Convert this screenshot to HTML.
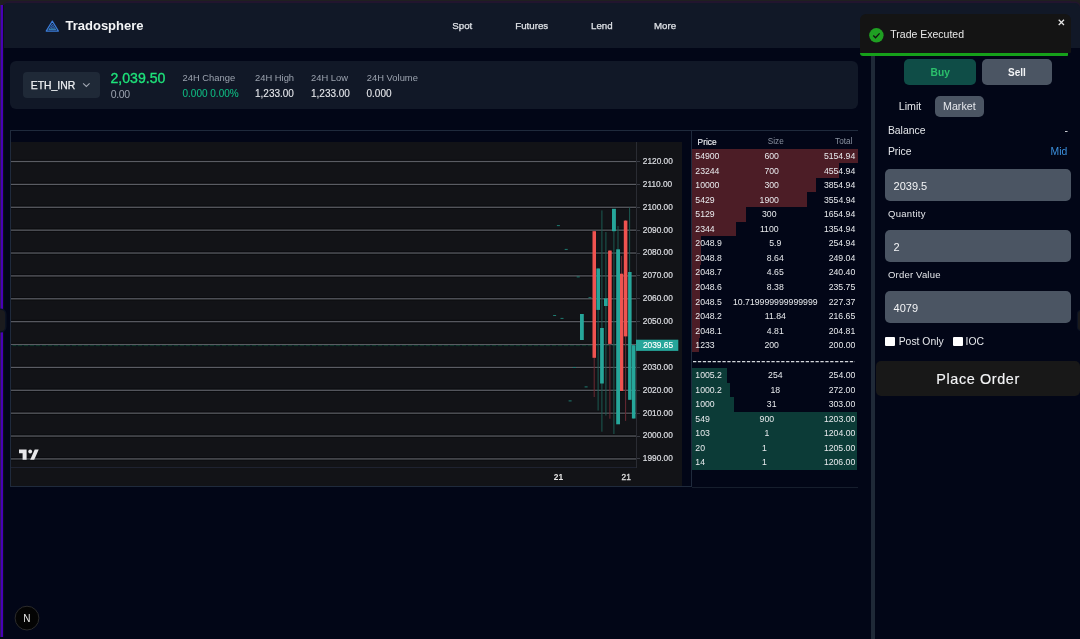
<!DOCTYPE html>
<html><head><meta charset="utf-8"><title>Tradosphere</title>
<style>
*{box-sizing:border-box;margin:0;padding:0}
html,body{width:1080px;height:639px;overflow:hidden;background:#020617;font-family:"Liberation Sans",Arial,sans-serif;color:#e5e7eb}
.a{position:absolute}
.t{position:absolute;white-space:pre;line-height:1}
#frame{left:0;top:0;width:1080px;height:3px;background:#22152e;border-top:1px solid #1f1f20}
#pl{left:0;top:4.5px;width:3px;height:632px;background:#4800b6;border-left:1px solid #2f1a58}
#pl2{left:3px;top:4.5px;width:1px;height:632px;background:#0a1018}
#hdr{left:3px;top:3px;width:1077px;height:44.9px;background:#111827;border-radius:5px 5px 0 0;box-shadow:0 -1.5px 0 #22152e}
.nav{font-size:9.7px;color:#dfe2e7;top:20.8px;-webkit-text-stroke:0.25px #dfe2e7}
#tick{left:10px;top:61px;width:848px;height:47.5px;background:#111827;border-radius:6px}
#pair{left:23.1px;top:72px;width:76.8px;height:25.9px;background:#1f2937;border-radius:4px}
.lbl{font-size:9.4px;color:#9ca3af}
.val{font-size:10px;color:#e5e7eb;-webkit-text-stroke:0.1px currentColor}
#chartbox{left:10px;top:130px;width:682px;height:357px;border:1px solid #1f2a3c}
#chartbg{left:11px;top:142px;width:671px;height:344px;background:#121317}
.ob{font-size:8.7px;color:#e8eaed}
#div{left:871.2px;top:47px;width:3.4px;height:592px;background:#1f2937}
#toast{left:859.6px;top:14px;width:211.2px;height:38.7px;background:#141414;border-radius:6px 6px 1px 0}
.inp{left:885px;width:186px;height:32px;background:#4b5563;border-radius:5px}
.flbl{font-size:10.4px;color:#e5e7eb}
</style></head><body>
<div class="a" id="frame"></div>
<div class="a" style="left:0;top:0;width:9px;height:9px;background:#1e1e1f"></div>
<div class="a" style="left:1071px;top:0;width:9px;height:9px;background:#1e1e1f"></div>
<div class="a" id="hdr"></div>
<div class="a" id="pl"></div><div class="a" id="pl2"></div>
<div class="a" style="left:-3px;top:310px;width:8.2px;height:21.2px;background:#1b1b1e;border-radius:4px;box-shadow:0 0 0 1.5px #0b1222"></div>
<div class="a" style="left:1077.6px;top:310.7px;width:8px;height:19px;background:#1a1a1c;border-radius:3px;box-shadow:0 0 0 1.2px #0b1222"></div>
<!-- logo -->
<svg class="a" style="left:42px;top:17px" width="20" height="18" viewBox="42 17 20 18">
  <path d="M48.2 30 H56.4 L55.3 28.4 H49.3 Z" fill="#2d7868"/>
  <path d="M52.3 21.1 L58.4 31.1 L46.2 31.1 Z" fill="none" stroke="#3a7bd8" stroke-width="1.2" stroke-linejoin="round"/>
  <path d="M52.3 24.2 L55.6 29.7 L49 29.7 Z" fill="none" stroke="#3a7bd8" stroke-width="0.8"/>
  <path d="M52.3 26.3 L53.5 28.3 L51.1 28.3 Z" fill="none" stroke="#3a7bd8" stroke-width="0.7"/>
</svg>
<div class="t" style="left:65.5px;top:19.3px;font-size:13px;font-weight:700;color:#f3f4f6">Tradosphere</div>
<div class="t nav" style="left:452.3px">Spot</div>
<div class="t nav" style="left:515.3px">Futures</div>
<div class="t nav" style="left:591px">Lend</div>
<div class="t nav" style="left:654px">More</div>

<!-- ticker -->
<div class="a" id="tick"></div>
<div class="a" id="pair"></div>
<div class="t" style="left:30.8px;top:80.8px;font-size:10.4px;color:#eef0f3;-webkit-text-stroke:0.25px #eef0f3">ETH_INR</div>
<svg class="a" style="left:82px;top:82px" width="9" height="6" viewBox="0 0 9 6"><path d="M1.1 1.4 L4.35 4.5 L7.6 1.4" fill="none" stroke="#a3a9b4" stroke-width="1.05"/></svg>
<div class="t" style="left:110.5px;top:71px;font-size:14.1px;color:#1ee27a;-webkit-text-stroke:0.35px #1ee27a">2,039.50</div>
<div class="t" style="left:110.8px;top:88.6px;font-size:10.5px;letter-spacing:-0.35px;color:#9ca3af">0.00</div>
<div class="t lbl" style="left:182.5px;top:72.5px">24H Change</div>
<div class="t val" style="left:182.5px;top:89px;color:#10b981">0.000 0.00%</div>
<div class="t lbl" style="left:255px;top:72.5px">24H High</div>
<div class="t val" style="left:255px;top:89px">1,233.00</div>
<div class="t lbl" style="left:311px;top:72.5px">24H Low</div>
<div class="t val" style="left:311px;top:89px">1,233.00</div>
<div class="t lbl" style="left:366.8px;top:72.5px">24H Volume</div>
<div class="t val" style="left:366.5px;top:89px">0.000</div>

<!-- chart -->
<div class="a" id="chartbox"></div>
<div class="a" id="chartbg"></div>
<svg class="a" style="left:0;top:0" width="1080" height="639" id="chartsvg">
<rect x="11" y="457.20" width="625" height="3.4" fill="#0b0c0f"/>
<rect x="11" y="458.30" width="625" height="1.25" fill="#5a5c63"/>
<rect x="11" y="434.32" width="625" height="3.4" fill="#0b0c0f"/>
<rect x="11" y="435.42" width="625" height="1.25" fill="#5a5c63"/>
<rect x="11" y="411.45" width="625" height="3.4" fill="#0b0c0f"/>
<rect x="11" y="412.55" width="625" height="1.25" fill="#5a5c63"/>
<rect x="11" y="388.57" width="625" height="3.4" fill="#0b0c0f"/>
<rect x="11" y="389.67" width="625" height="1.25" fill="#5a5c63"/>
<rect x="11" y="365.69" width="625" height="3.4" fill="#0b0c0f"/>
<rect x="11" y="366.79" width="625" height="1.25" fill="#5a5c63"/>
<rect x="11" y="342.82" width="625" height="3.4" fill="#0b0c0f"/>
<rect x="11" y="343.92" width="625" height="1.25" fill="#5a5c63"/>
<rect x="11" y="319.94" width="625" height="3.4" fill="#0b0c0f"/>
<rect x="11" y="321.04" width="625" height="1.25" fill="#5a5c63"/>
<rect x="11" y="297.06" width="625" height="3.4" fill="#0b0c0f"/>
<rect x="11" y="298.16" width="625" height="1.25" fill="#5a5c63"/>
<rect x="11" y="274.19" width="625" height="3.4" fill="#0b0c0f"/>
<rect x="11" y="275.28" width="625" height="1.25" fill="#5a5c63"/>
<rect x="11" y="251.31" width="625" height="3.4" fill="#0b0c0f"/>
<rect x="11" y="252.41" width="625" height="1.25" fill="#5a5c63"/>
<rect x="11" y="228.43" width="625" height="3.4" fill="#0b0c0f"/>
<rect x="11" y="229.53" width="625" height="1.25" fill="#5a5c63"/>
<rect x="11" y="205.55" width="625" height="3.4" fill="#0b0c0f"/>
<rect x="11" y="206.65" width="625" height="1.25" fill="#5a5c63"/>
<rect x="11" y="182.68" width="625" height="3.4" fill="#0b0c0f"/>
<rect x="11" y="183.78" width="625" height="1.25" fill="#5a5c63"/>
<rect x="11" y="159.80" width="625" height="3.4" fill="#0b0c0f"/>
<rect x="11" y="160.90" width="625" height="1.25" fill="#5a5c63"/>
<rect x="11" y="345.1" width="625" height="1.1" fill="#0e3a2c"/>
<rect x="11.00" y="345.1" width="1.5" height="1.1" fill="#0a0f22"/>
<rect x="16.25" y="345.1" width="1.5" height="1.1" fill="#0a0f22"/>
<rect x="22.25" y="345.1" width="1.5" height="1.1" fill="#0a0f22"/>
<rect x="28.25" y="345.1" width="1.5" height="1.1" fill="#0a0f22"/>
<rect x="34.25" y="345.1" width="1.5" height="1.1" fill="#0a0f22"/>
<rect x="40.25" y="345.1" width="1.5" height="1.1" fill="#0a0f22"/>
<rect x="46.25" y="345.1" width="1.5" height="1.1" fill="#0a0f22"/>
<rect x="52.25" y="345.1" width="1.5" height="1.1" fill="#0a0f22"/>
<rect x="58.25" y="345.1" width="1.5" height="1.1" fill="#0a0f22"/>
<rect x="64.25" y="345.1" width="1.5" height="1.1" fill="#0a0f22"/>
<rect x="70.25" y="345.1" width="1.5" height="1.1" fill="#0a0f22"/>
<rect x="76.25" y="345.1" width="1.5" height="1.1" fill="#0a0f22"/>
<rect x="82.25" y="345.1" width="1.5" height="1.1" fill="#0a0f22"/>
<rect x="88.25" y="345.1" width="1.5" height="1.1" fill="#0a0f22"/>
<rect x="94.25" y="345.1" width="1.5" height="1.1" fill="#0a0f22"/>
<rect x="100.25" y="345.1" width="1.5" height="1.1" fill="#0a0f22"/>
<rect x="106.25" y="345.1" width="1.5" height="1.1" fill="#0a0f22"/>
<rect x="112.25" y="345.1" width="1.5" height="1.1" fill="#0a0f22"/>
<rect x="118.25" y="345.1" width="1.5" height="1.1" fill="#0a0f22"/>
<rect x="124.25" y="345.1" width="1.5" height="1.1" fill="#0a0f22"/>
<rect x="130.25" y="345.1" width="1.5" height="1.1" fill="#0a0f22"/>
<rect x="136.25" y="345.1" width="1.5" height="1.1" fill="#0a0f22"/>
<rect x="142.25" y="345.1" width="1.5" height="1.1" fill="#0a0f22"/>
<rect x="148.25" y="345.1" width="1.5" height="1.1" fill="#0a0f22"/>
<rect x="154.25" y="345.1" width="1.5" height="1.1" fill="#0a0f22"/>
<rect x="160.25" y="345.1" width="1.5" height="1.1" fill="#0a0f22"/>
<rect x="166.25" y="345.1" width="1.5" height="1.1" fill="#0a0f22"/>
<rect x="172.25" y="345.1" width="1.5" height="1.1" fill="#0a0f22"/>
<rect x="178.25" y="345.1" width="1.5" height="1.1" fill="#0a0f22"/>
<rect x="184.25" y="345.1" width="1.5" height="1.1" fill="#0a0f22"/>
<rect x="190.25" y="345.1" width="1.5" height="1.1" fill="#0a0f22"/>
<rect x="196.25" y="345.1" width="1.5" height="1.1" fill="#0a0f22"/>
<rect x="202.25" y="345.1" width="1.5" height="1.1" fill="#0a0f22"/>
<rect x="208.25" y="345.1" width="1.5" height="1.1" fill="#0a0f22"/>
<rect x="214.25" y="345.1" width="1.5" height="1.1" fill="#0a0f22"/>
<rect x="220.25" y="345.1" width="1.5" height="1.1" fill="#0a0f22"/>
<rect x="226.25" y="345.1" width="1.5" height="1.1" fill="#0a0f22"/>
<rect x="232.25" y="345.1" width="1.5" height="1.1" fill="#0a0f22"/>
<rect x="238.25" y="345.1" width="1.5" height="1.1" fill="#0a0f22"/>
<rect x="244.25" y="345.1" width="1.5" height="1.1" fill="#0a0f22"/>
<rect x="250.25" y="345.1" width="1.5" height="1.1" fill="#0a0f22"/>
<rect x="256.25" y="345.1" width="1.5" height="1.1" fill="#0a0f22"/>
<rect x="262.25" y="345.1" width="1.5" height="1.1" fill="#0a0f22"/>
<rect x="268.25" y="345.1" width="1.5" height="1.1" fill="#0a0f22"/>
<rect x="274.25" y="345.1" width="1.5" height="1.1" fill="#0a0f22"/>
<rect x="280.25" y="345.1" width="1.5" height="1.1" fill="#0a0f22"/>
<rect x="286.25" y="345.1" width="1.5" height="1.1" fill="#0a0f22"/>
<rect x="292.25" y="345.1" width="1.5" height="1.1" fill="#0a0f22"/>
<rect x="298.25" y="345.1" width="1.5" height="1.1" fill="#0a0f22"/>
<rect x="304.25" y="345.1" width="1.5" height="1.1" fill="#0a0f22"/>
<rect x="310.25" y="345.1" width="1.5" height="1.1" fill="#0a0f22"/>
<rect x="316.25" y="345.1" width="1.5" height="1.1" fill="#0a0f22"/>
<rect x="322.25" y="345.1" width="1.5" height="1.1" fill="#0a0f22"/>
<rect x="328.25" y="345.1" width="1.5" height="1.1" fill="#0a0f22"/>
<rect x="334.25" y="345.1" width="1.5" height="1.1" fill="#0a0f22"/>
<rect x="340.25" y="345.1" width="1.5" height="1.1" fill="#0a0f22"/>
<rect x="346.25" y="345.1" width="1.5" height="1.1" fill="#0a0f22"/>
<rect x="352.25" y="345.1" width="1.5" height="1.1" fill="#0a0f22"/>
<rect x="358.25" y="345.1" width="1.5" height="1.1" fill="#0a0f22"/>
<rect x="364.25" y="345.1" width="1.5" height="1.1" fill="#0a0f22"/>
<rect x="370.25" y="345.1" width="1.5" height="1.1" fill="#0a0f22"/>
<rect x="376.25" y="345.1" width="1.5" height="1.1" fill="#0a0f22"/>
<rect x="382.25" y="345.1" width="1.5" height="1.1" fill="#0a0f22"/>
<rect x="388.25" y="345.1" width="1.5" height="1.1" fill="#0a0f22"/>
<rect x="394.25" y="345.1" width="1.5" height="1.1" fill="#0a0f22"/>
<rect x="400.25" y="345.1" width="1.5" height="1.1" fill="#0a0f22"/>
<rect x="406.25" y="345.1" width="1.5" height="1.1" fill="#0a0f22"/>
<rect x="412.25" y="345.1" width="1.5" height="1.1" fill="#0a0f22"/>
<rect x="418.25" y="345.1" width="1.5" height="1.1" fill="#0a0f22"/>
<rect x="424.25" y="345.1" width="1.5" height="1.1" fill="#0a0f22"/>
<rect x="430.25" y="345.1" width="1.5" height="1.1" fill="#0a0f22"/>
<rect x="436.25" y="345.1" width="1.5" height="1.1" fill="#0a0f22"/>
<rect x="442.25" y="345.1" width="1.5" height="1.1" fill="#0a0f22"/>
<rect x="448.25" y="345.1" width="1.5" height="1.1" fill="#0a0f22"/>
<rect x="454.25" y="345.1" width="1.5" height="1.1" fill="#0a0f22"/>
<rect x="460.25" y="345.1" width="1.5" height="1.1" fill="#0a0f22"/>
<rect x="466.25" y="345.1" width="1.5" height="1.1" fill="#0a0f22"/>
<rect x="472.25" y="345.1" width="1.5" height="1.1" fill="#0a0f22"/>
<rect x="478.25" y="345.1" width="1.5" height="1.1" fill="#0a0f22"/>
<rect x="484.25" y="345.1" width="1.5" height="1.1" fill="#0a0f22"/>
<rect x="490.25" y="345.1" width="1.5" height="1.1" fill="#0a0f22"/>
<rect x="496.25" y="345.1" width="1.5" height="1.1" fill="#0a0f22"/>
<rect x="502.25" y="345.1" width="1.5" height="1.1" fill="#0a0f22"/>
<rect x="508.25" y="345.1" width="1.5" height="1.1" fill="#0a0f22"/>
<rect x="514.25" y="345.1" width="1.5" height="1.1" fill="#0a0f22"/>
<rect x="520.25" y="345.1" width="1.5" height="1.1" fill="#0a0f22"/>
<rect x="526.25" y="345.1" width="1.5" height="1.1" fill="#0a0f22"/>
<rect x="532.25" y="345.1" width="1.5" height="1.1" fill="#0a0f22"/>
<rect x="538.25" y="345.1" width="1.5" height="1.1" fill="#0a0f22"/>
<rect x="544.25" y="345.1" width="1.5" height="1.1" fill="#0a0f22"/>
<rect x="550.25" y="345.1" width="1.5" height="1.1" fill="#0a0f22"/>
<rect x="556.25" y="345.1" width="1.5" height="1.1" fill="#0a0f22"/>
<rect x="562.25" y="345.1" width="1.5" height="1.1" fill="#0a0f22"/>
<rect x="568.25" y="345.1" width="1.5" height="1.1" fill="#0a0f22"/>
<rect x="574.25" y="345.1" width="1.5" height="1.1" fill="#0a0f22"/>
<rect x="580.25" y="345.1" width="1.5" height="1.1" fill="#0a0f22"/>
<rect x="586.25" y="345.1" width="1.5" height="1.1" fill="#0a0f22"/>
<rect x="592.25" y="345.1" width="1.5" height="1.1" fill="#0a0f22"/>
<rect x="598.25" y="345.1" width="1.5" height="1.1" fill="#0a0f22"/>
<rect x="604.25" y="345.1" width="1.5" height="1.1" fill="#0a0f22"/>
<rect x="610.25" y="345.1" width="1.5" height="1.1" fill="#0a0f22"/>
<rect x="616.25" y="345.1" width="1.5" height="1.1" fill="#0a0f22"/>
<rect x="622.25" y="345.1" width="1.5" height="1.1" fill="#0a0f22"/>
<rect x="628.25" y="345.1" width="1.5" height="1.1" fill="#0a0f22"/>
<rect x="634.25" y="345.1" width="1.5" height="1.1" fill="#0a0f22"/>
<rect x="636" y="142" width="1" height="326" fill="#2a2c33"/>
<rect x="11" y="467" width="625" height="1" fill="#1e2230"/>
<text x="642.8" y="461.3" font-size="8.3" fill="#dcdee3" stroke="#dcdee3" stroke-width="0.2" font-family="Liberation Sans, sans-serif">1990.00</text>
<rect x="637" y="458" width="3" height="1" fill="#3a3d45"/>
<text x="642.8" y="438.4" font-size="8.3" fill="#dcdee3" stroke="#dcdee3" stroke-width="0.2" font-family="Liberation Sans, sans-serif">2000.00</text>
<rect x="637" y="436" width="3" height="1" fill="#3a3d45"/>
<text x="642.8" y="415.5" font-size="8.3" fill="#dcdee3" stroke="#dcdee3" stroke-width="0.2" font-family="Liberation Sans, sans-serif">2010.00</text>
<rect x="637" y="413" width="3" height="1" fill="#3a3d45"/>
<text x="642.8" y="392.7" font-size="8.3" fill="#dcdee3" stroke="#dcdee3" stroke-width="0.2" font-family="Liberation Sans, sans-serif">2020.00</text>
<rect x="637" y="390" width="3" height="1" fill="#3a3d45"/>
<text x="642.8" y="369.8" font-size="8.3" fill="#dcdee3" stroke="#dcdee3" stroke-width="0.2" font-family="Liberation Sans, sans-serif">2030.00</text>
<rect x="637" y="367" width="3" height="1" fill="#3a3d45"/>
<text x="642.8" y="324.0" font-size="8.3" fill="#dcdee3" stroke="#dcdee3" stroke-width="0.2" font-family="Liberation Sans, sans-serif">2050.00</text>
<rect x="637" y="321" width="3" height="1" fill="#3a3d45"/>
<text x="642.8" y="301.2" font-size="8.3" fill="#dcdee3" stroke="#dcdee3" stroke-width="0.2" font-family="Liberation Sans, sans-serif">2060.00</text>
<rect x="637" y="298" width="3" height="1" fill="#3a3d45"/>
<text x="642.8" y="278.3" font-size="8.3" fill="#dcdee3" stroke="#dcdee3" stroke-width="0.2" font-family="Liberation Sans, sans-serif">2070.00</text>
<rect x="637" y="275" width="3" height="1" fill="#3a3d45"/>
<text x="642.8" y="255.4" font-size="8.3" fill="#dcdee3" stroke="#dcdee3" stroke-width="0.2" font-family="Liberation Sans, sans-serif">2080.00</text>
<rect x="637" y="253" width="3" height="1" fill="#3a3d45"/>
<text x="642.8" y="232.5" font-size="8.3" fill="#dcdee3" stroke="#dcdee3" stroke-width="0.2" font-family="Liberation Sans, sans-serif">2090.00</text>
<rect x="637" y="230" width="3" height="1" fill="#3a3d45"/>
<text x="642.8" y="209.7" font-size="8.3" fill="#dcdee3" stroke="#dcdee3" stroke-width="0.2" font-family="Liberation Sans, sans-serif">2100.00</text>
<rect x="637" y="207" width="3" height="1" fill="#3a3d45"/>
<text x="642.8" y="186.8" font-size="8.3" fill="#dcdee3" stroke="#dcdee3" stroke-width="0.2" font-family="Liberation Sans, sans-serif">2110.00</text>
<rect x="637" y="184" width="3" height="1" fill="#3a3d45"/>
<text x="642.8" y="163.9" font-size="8.3" fill="#dcdee3" stroke="#dcdee3" stroke-width="0.2" font-family="Liberation Sans, sans-serif">2120.00</text>
<rect x="637" y="161" width="3" height="1" fill="#3a3d45"/>
<rect x="636" y="339.7" width="42.3" height="11.2" fill="#26a69a"/>
<text x="642.9" y="348.2" font-size="8.4" fill="#ffffff" stroke="#ffffff" stroke-width="0.15" font-family="Liberation Sans, sans-serif">2039.65</text>
<text x="553.8" y="480" font-size="8.4" font-weight="700" fill="#e6e6e6" font-family="Liberation Sans, sans-serif">21</text>
<text x="621.5" y="480" font-size="8.4" fill="#dcdcdc" stroke="#dcdcdc" stroke-width="0.3" font-family="Liberation Sans, sans-serif">21</text>
<path d="M19 449.4 H26.6 V459.7 H22.6 V453.2 H19 Z" fill="#e8e8ea"/>
<circle cx="30.2" cy="451.5" r="1.9" fill="#e8e8ea"/>
<path d="M34.7 449.4 H38.7 L34.2 459.7 H30.2 Z" fill="#e8e8ea"/>
<rect x="556.9" y="225.1" width="3" height="1" fill="#1f7a70"/>
<rect x="564.7" y="248.9" width="3" height="1" fill="#1f7a70"/>
<rect x="576.7" y="276.4" width="3" height="1" fill="#1f7a70"/>
<rect x="553.1" y="315.0" width="3" height="1" fill="#1f7a70"/>
<rect x="560.5" y="317.9" width="3" height="1" fill="#1f7a70"/>
<rect x="572.9" y="367.0" width="3" height="1" fill="#1f7a70"/>
<rect x="584.6" y="386.4" width="3" height="1" fill="#1f7a70"/>
<rect x="588.5" y="297.2" width="3" height="1" fill="#1f7a70"/>
<rect x="568.6" y="400.4" width="3" height="1" fill="#1f7a70"/>
<rect x="593.7" y="231" width="1" height="166.0" fill="#6a2a33"/>
<rect x="597.6" y="268" width="1" height="142.5" fill="#1b5a52"/>
<rect x="601.4" y="210.4" width="1" height="221.3" fill="#1b5a52"/>
<rect x="605.4" y="232" width="1" height="183.5" fill="#1b5a52"/>
<rect x="609.4" y="250" width="1" height="168.7" fill="#6a2a33"/>
<rect x="613.4" y="209" width="1" height="225.0" fill="#1b5a52"/>
<rect x="617.5" y="226" width="1" height="198.0" fill="#1b5a52"/>
<rect x="621.1" y="256" width="1" height="135.0" fill="#6a2a33"/>
<rect x="625.1" y="220" width="1" height="200.9" fill="#6a2a33"/>
<rect x="629.1" y="207.5" width="1" height="192.5" fill="#1b5a52"/>
<rect x="633.1" y="345" width="1" height="73.5" fill="#1b5a52"/>
<rect x="580.0" y="314" width="3.8" height="26.0" fill="#26a69a"/>
<rect x="592.5" y="231.2" width="3.5" height="126.6" fill="#ef5350"/>
<rect x="596.4" y="268.5" width="3.6" height="41.4" fill="#26a69a"/>
<rect x="600.1" y="328" width="3.7" height="55.5" fill="#26a69a"/>
<rect x="604.0" y="298.4" width="3.7" height="7.6" fill="#26a69a"/>
<rect x="608.1" y="250.6" width="3.6" height="93.3" fill="#ef5350"/>
<rect x="612.0" y="208.8" width="3.9" height="22.4" fill="#26a69a"/>
<rect x="616.2" y="249.3" width="3.8" height="175.0" fill="#26a69a"/>
<rect x="620.0" y="273.7" width="3.3" height="117.3" fill="#ef5350"/>
<rect x="623.8" y="220.6" width="3.6" height="115.8" fill="#ef5350"/>
<rect x="628.1" y="272" width="3.5" height="127.8" fill="#26a69a"/>
<rect x="631.9" y="345.2" width="3.6" height="73.3" fill="#26a69a"/>
</svg>

<!-- order book -->
<div id="ob">
<div class="a" style="left:692px;top:130px;width:166px;height:1px;background:#1f2a3c"></div>
<div class="a" style="left:692px;top:486.7px;width:166px;height:1px;background:#161e2d"></div>
<div class="t" style="left:697.6px;top:137.7px;font-size:8.3px;color:#eef0f3;-webkit-text-stroke:0.15px #eef0f3">Price</div>
<div class="t" style="left:767.8px;top:137.7px;font-size:8.2px;color:#8b93a1">Size</div>
<div class="t" style="right:227.6px;top:137.7px;font-size:8.2px;color:#8b93a1">Total</div>
<div class="a" style="left:692.4px;top:148.80px;width:165.5px;height:14.55px;background:#4c1d26"></div>
<div class="a ob" style="left:695.3px;top:148.80px;width:160px;height:14.55px;display:flex;justify-content:space-between;align-items:center;white-space:pre"><span>54900</span><span>600</span><span>5154.94</span></div>
<div class="a" style="left:692.4px;top:163.35px;width:146.6px;height:14.55px;background:#4c1d26"></div>
<div class="a ob" style="left:695.3px;top:163.35px;width:160px;height:14.55px;display:flex;justify-content:space-between;align-items:center;white-space:pre"><span>23244</span><span>700</span><span>4554.94</span></div>
<div class="a" style="left:692.4px;top:177.90px;width:123.6px;height:14.55px;background:#4c1d26"></div>
<div class="a ob" style="left:695.3px;top:177.90px;width:160px;height:14.55px;display:flex;justify-content:space-between;align-items:center;white-space:pre"><span>10000</span><span>300</span><span>3854.94</span></div>
<div class="a" style="left:692.4px;top:192.45px;width:114.4px;height:14.55px;background:#4c1d26"></div>
<div class="a ob" style="left:695.3px;top:192.45px;width:160px;height:14.55px;display:flex;justify-content:space-between;align-items:center;white-space:pre"><span>5429</span><span>1900</span><span>3554.94</span></div>
<div class="a" style="left:692.4px;top:207.00px;width:53.3px;height:14.55px;background:#4c1d26"></div>
<div class="a ob" style="left:695.3px;top:207.00px;width:160px;height:14.55px;display:flex;justify-content:space-between;align-items:center;white-space:pre"><span>5129</span><span>300</span><span>1654.94</span></div>
<div class="a" style="left:692.4px;top:221.55px;width:43.6px;height:14.55px;background:#4c1d26"></div>
<div class="a ob" style="left:695.3px;top:221.55px;width:160px;height:14.55px;display:flex;justify-content:space-between;align-items:center;white-space:pre"><span>2344</span><span>1100</span><span>1354.94</span></div>
<div class="a" style="left:692.4px;top:236.10px;width:8.4px;height:14.55px;background:#4c1d26"></div>
<div class="a ob" style="left:695.3px;top:236.10px;width:160px;height:14.55px;display:flex;justify-content:space-between;align-items:center;white-space:pre"><span>2048.9</span><span>5.9</span><span>254.94</span></div>
<div class="a" style="left:692.4px;top:250.65px;width:8.2px;height:14.55px;background:#4c1d26"></div>
<div class="a ob" style="left:695.3px;top:250.65px;width:160px;height:14.55px;display:flex;justify-content:space-between;align-items:center;white-space:pre"><span>2048.8</span><span>8.64</span><span>249.04</span></div>
<div class="a" style="left:692.4px;top:265.20px;width:8.0px;height:14.55px;background:#4c1d26"></div>
<div class="a ob" style="left:695.3px;top:265.20px;width:160px;height:14.55px;display:flex;justify-content:space-between;align-items:center;white-space:pre"><span>2048.7</span><span>4.65</span><span>240.40</span></div>
<div class="a" style="left:692.4px;top:279.75px;width:7.8px;height:14.55px;background:#4c1d26"></div>
<div class="a ob" style="left:695.3px;top:279.75px;width:160px;height:14.55px;display:flex;justify-content:space-between;align-items:center;white-space:pre"><span>2048.6</span><span>8.38</span><span>235.75</span></div>
<div class="a" style="left:692.4px;top:294.30px;width:7.6px;height:14.55px;background:#4c1d26"></div>
<div class="a ob" style="left:695.3px;top:294.30px;width:160px;height:14.55px;display:flex;justify-content:space-between;align-items:center;white-space:pre"><span>2048.5</span><span>10.719999999999999</span><span>227.37</span></div>
<div class="a" style="left:692.4px;top:308.85px;width:7.4px;height:14.55px;background:#4c1d26"></div>
<div class="a ob" style="left:695.3px;top:308.85px;width:160px;height:14.55px;display:flex;justify-content:space-between;align-items:center;white-space:pre"><span>2048.2</span><span>11.84</span><span>216.65</span></div>
<div class="a" style="left:692.4px;top:323.40px;width:7.2px;height:14.55px;background:#4c1d26"></div>
<div class="a ob" style="left:695.3px;top:323.40px;width:160px;height:14.55px;display:flex;justify-content:space-between;align-items:center;white-space:pre"><span>2048.1</span><span>4.81</span><span>204.81</span></div>
<div class="a" style="left:692.4px;top:337.95px;width:6.6px;height:14.55px;background:#4c1d26"></div>
<div class="a ob" style="left:695.3px;top:337.95px;width:160px;height:14.55px;display:flex;justify-content:space-between;align-items:center;white-space:pre"><span>1233</span><span>200</span><span>200.00</span></div>
<svg class="a" style="left:693px;top:360.6px" width="162" height="2" viewBox="0 0 162 2"><rect x="0.00" y="0" width="3.3" height="1.25" fill="#d4d7dc"/><rect x="4.90" y="0" width="3.3" height="1.25" fill="#d4d7dc"/><rect x="9.80" y="0" width="3.3" height="1.25" fill="#d4d7dc"/><rect x="14.70" y="0" width="3.3" height="1.25" fill="#d4d7dc"/><rect x="19.60" y="0" width="3.3" height="1.25" fill="#d4d7dc"/><rect x="24.50" y="0" width="3.3" height="1.25" fill="#d4d7dc"/><rect x="29.40" y="0" width="3.3" height="1.25" fill="#d4d7dc"/><rect x="34.30" y="0" width="3.3" height="1.25" fill="#d4d7dc"/><rect x="39.20" y="0" width="3.3" height="1.25" fill="#d4d7dc"/><rect x="44.10" y="0" width="3.3" height="1.25" fill="#d4d7dc"/><rect x="49.00" y="0" width="3.3" height="1.25" fill="#d4d7dc"/><rect x="53.90" y="0" width="3.3" height="1.25" fill="#d4d7dc"/><rect x="58.80" y="0" width="3.3" height="1.25" fill="#d4d7dc"/><rect x="63.70" y="0" width="3.3" height="1.25" fill="#d4d7dc"/><rect x="68.60" y="0" width="3.3" height="1.25" fill="#d4d7dc"/><rect x="73.50" y="0" width="3.3" height="1.25" fill="#d4d7dc"/><rect x="78.40" y="0" width="3.3" height="1.25" fill="#d4d7dc"/><rect x="83.30" y="0" width="3.3" height="1.25" fill="#d4d7dc"/><rect x="88.20" y="0" width="3.3" height="1.25" fill="#d4d7dc"/><rect x="93.10" y="0" width="3.3" height="1.25" fill="#d4d7dc"/><rect x="98.00" y="0" width="3.3" height="1.25" fill="#d4d7dc"/><rect x="102.90" y="0" width="3.3" height="1.25" fill="#d4d7dc"/><rect x="107.80" y="0" width="3.3" height="1.25" fill="#d4d7dc"/><rect x="112.70" y="0" width="3.3" height="1.25" fill="#d4d7dc"/><rect x="117.60" y="0" width="3.3" height="1.25" fill="#d4d7dc"/><rect x="122.50" y="0" width="3.3" height="1.25" fill="#d4d7dc"/><rect x="127.40" y="0" width="3.3" height="1.25" fill="#d4d7dc"/><rect x="132.30" y="0" width="3.3" height="1.25" fill="#d4d7dc"/><rect x="137.20" y="0" width="3.3" height="1.25" fill="#d4d7dc"/><rect x="142.10" y="0" width="3.3" height="1.25" fill="#d4d7dc"/><rect x="147.00" y="0" width="3.3" height="1.25" fill="#d4d7dc"/><rect x="151.90" y="0" width="3.3" height="1.25" fill="#d4d7dc"/><rect x="156.80" y="0" width="3.3" height="1.25" fill="#d4d7dc"/><rect x="161.70" y="0" width="3.3" height="1.25" fill="#d4d7dc"/></svg>
<div class="a" style="left:692.4px;top:368.00px;width:34.6px;height:14.55px;background:#0c3b37"></div>
<div class="a ob" style="left:695.3px;top:368.00px;width:160px;height:14.55px;display:flex;justify-content:space-between;align-items:center;white-space:pre"><span>1005.2</span><span>254</span><span>254.00</span></div>
<div class="a" style="left:692.4px;top:382.50px;width:37.6px;height:14.55px;background:#0c3b37"></div>
<div class="a ob" style="left:695.3px;top:382.50px;width:160px;height:14.55px;display:flex;justify-content:space-between;align-items:center;white-space:pre"><span>1000.2</span><span>18</span><span>272.00</span></div>
<div class="a" style="left:692.4px;top:397.00px;width:41.4px;height:14.55px;background:#0c3b37"></div>
<div class="a ob" style="left:695.3px;top:397.00px;width:160px;height:14.55px;display:flex;justify-content:space-between;align-items:center;white-space:pre"><span>1000</span><span>31</span><span>303.00</span></div>
<div class="a" style="left:692.4px;top:411.50px;width:165.1px;height:14.55px;background:#0c3b37"></div>
<div class="a ob" style="left:695.3px;top:411.50px;width:160px;height:14.55px;display:flex;justify-content:space-between;align-items:center;white-space:pre"><span>549</span><span>900</span><span>1203.00</span></div>
<div class="a" style="left:692.4px;top:426.00px;width:165.1px;height:14.55px;background:#0c3b37"></div>
<div class="a ob" style="left:695.3px;top:426.00px;width:160px;height:14.55px;display:flex;justify-content:space-between;align-items:center;white-space:pre"><span>103</span><span>1</span><span>1204.00</span></div>
<div class="a" style="left:692.4px;top:440.50px;width:165.1px;height:14.55px;background:#0c3b37"></div>
<div class="a ob" style="left:695.3px;top:440.50px;width:160px;height:14.55px;display:flex;justify-content:space-between;align-items:center;white-space:pre"><span>20</span><span>1</span><span>1205.00</span></div>
<div class="a" style="left:692.4px;top:455.00px;width:165.1px;height:14.55px;background:#0c3b37"></div>
<div class="a ob" style="left:695.3px;top:455.00px;width:160px;height:14.55px;display:flex;justify-content:space-between;align-items:center;white-space:pre"><span>14</span><span>1</span><span>1206.00</span></div>
</div><!--obend-->

<!-- right panel -->
<div class="a" id="div"></div>
<div class="a" style="left:904.2px;top:58.7px;width:71.6px;height:26px;background:#0f4d47;border-radius:5px"></div>
<div class="t" style="left:930.6px;top:67.6px;font-size:10.2px;font-weight:700;color:#2cc06c">Buy</div>
<div class="a" style="left:981.7px;top:58.7px;width:70.8px;height:26px;background:#4b5563;border-radius:5px"></div>
<div class="t" style="left:1008px;top:67.5px;font-size:10px;font-weight:700;color:#f3f4f6">Sell</div>
<div class="t" style="left:898.7px;top:101px;font-size:10.7px;color:#e5e7eb">Limit</div>
<div class="a" style="left:935px;top:95.7px;width:48.8px;height:21px;background:#4b5563;border-radius:5px"></div>
<div class="t" style="left:943px;top:101px;font-size:10.7px;color:#e5e7eb">Market</div>
<div class="t flbl" style="left:887.9px;top:125.5px">Balance</div>
<div class="t flbl" style="left:1064.5px;top:125.5px">-</div>
<div class="t flbl" style="left:887.9px;top:146.5px">Price</div>
<div class="t flbl" style="left:1050.6px;top:146.5px;color:#3b8fdc">Mid</div>
<div class="a inp" style="top:169.3px"></div>
<div class="t" style="left:893.6px;top:181px;font-size:11px;color:#f3f4f6">2039.5</div>
<div class="t flbl" style="left:888px;top:208.9px;font-size:9.5px;letter-spacing:0.3px">Quantity</div>
<div class="a inp" style="top:230.1px"></div>
<div class="t" style="left:893.6px;top:241.8px;font-size:11px;color:#f3f4f6">2</div>
<div class="t flbl" style="left:888px;top:269.9px;font-size:9.5px;letter-spacing:0.19px">Order Value</div>
<div class="a inp" style="top:291px"></div>
<div class="t" style="left:893.6px;top:302.5px;font-size:11px;color:#f3f4f6">4079</div>
<div class="a" style="left:885.2px;top:336.9px;width:10px;height:9.4px;background:#fff;border-radius:1px"></div>
<div class="t" style="left:898.7px;top:337px;font-size:10.4px;color:#e5e7eb">Post Only</div>
<div class="a" style="left:953px;top:336.9px;width:9.8px;height:9.4px;background:#fff;border-radius:1px"></div>
<div class="t" style="left:965.5px;top:337px;font-size:10.4px;color:#e5e7eb">IOC</div>
<div class="a" style="left:876px;top:361.3px;width:203.5px;height:34.4px;background:#181818;border-radius:5px"></div>
<div class="t" style="left:936.3px;top:372.1px;font-size:14.4px;letter-spacing:0.62px;color:#f3f4f6;-webkit-text-stroke:0.15px #f3f4f6">Place Order</div>

<!-- toast -->
<div class="a" id="toast"></div>
<div class="a" style="left:859.6px;top:52.6px;width:208.5px;height:3.5px;background:#16a01a;border-radius:0 0 1px 4px"></div>
<svg class="a" style="left:868.5px;top:27.7px" width="15" height="15" viewBox="0 0 15 15"><circle cx="7.4" cy="7.3" r="7.2" fill="#1f9f22"/><path d="M4.3 7.5 L6.5 9.7 L10.6 5.4" fill="none" stroke="#111" stroke-width="1.3"/></svg>
<div class="t" style="left:890.3px;top:29.4px;font-size:10.5px;color:#e8e8e8">Trade Executed</div>
<svg class="a" style="left:1058.3px;top:19.4px" width="7" height="7" viewBox="0 0 7 7"><path d="M0.7 0.7 L6 6 M6 0.7 L0.7 6" stroke="#e5e5e5" stroke-width="1.25"/></svg>

<!-- next badge -->
<svg class="a" style="left:14px;top:605px" width="26" height="26" viewBox="0 0 26 26"><circle cx="13" cy="13.1" r="11.9" fill="#040404" stroke="#2b2b2b" stroke-width="1"/><text x="12.9" y="17" text-anchor="middle" font-family="Liberation Sans, sans-serif" font-size="10" fill="#e8e8e8">N</text></svg>
</body></html>
